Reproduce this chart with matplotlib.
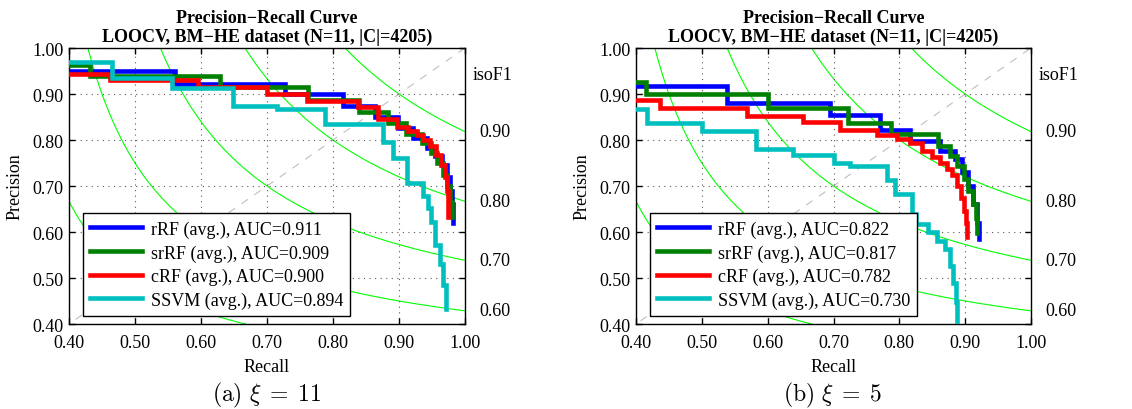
import numpy as np
import matplotlib
import matplotlib.pyplot as plt
import matplotlib.transforms as mtransforms

matplotlib.use("Agg")

plt.rcParams.update({
    "font.family": "serif",
    "font.serif": ["Liberation Serif", "DejaVu Serif"],
    "font.size": 13,
    "mathtext.fontset": "cm",
    "axes.linewidth": 1.0,
    "xtick.direction": "in",
    "ytick.direction": "in",
    "xtick.top": True,
    "ytick.right": True,
})

# ---- data ----
METHODS = ["rRF", "srRF", "cRF", "SSVM"]
COLORS = ["#0000ff", "#008000", "#ff0000", "#00bfbf"]

# (a) xi = 11
A_RRF_R = [0.400, 0.561, 0.727, 0.815, 0.863, 0.899, 0.921, 0.942, 0.955, 0.965, 0.972, 0.977, 0.980, 0.982]
A_RRF_P = [0.951, 0.922, 0.899, 0.873, 0.851, 0.827, 0.804, 0.782, 0.765, 0.745, 0.720, 0.690, 0.660, 0.620]
A_SRRF_R = [0.400, 0.432, 0.629, 0.762, 0.839, 0.883, 0.910, 0.935, 0.948, 0.958, 0.966, 0.972, 0.977, 0.980]
A_SRRF_P = [0.962, 0.940, 0.915, 0.888, 0.860, 0.838, 0.813, 0.793, 0.772, 0.750, 0.725, 0.700, 0.665, 0.632]
A_CRF_R = [0.400, 0.462, 0.595, 0.700, 0.761, 0.838, 0.868, 0.897, 0.914, 0.928, 0.937, 0.947, 0.956, 0.963, 0.969, 0.973, 0.975]
A_CRF_P = [0.943, 0.930, 0.915, 0.900, 0.885, 0.872, 0.845, 0.828, 0.820, 0.811, 0.800, 0.786, 0.768, 0.745, 0.720, 0.690, 0.632]
A_SSVM_R = [0.400, 0.465, 0.556, 0.648, 0.715, 0.788, 0.876, 0.891, 0.912, 0.936, 0.944, 0.948, 0.954, 0.962, 0.966, 0.971]
A_SSVM_P = [0.969, 0.935, 0.912, 0.875, 0.867, 0.835, 0.795, 0.760, 0.707, 0.678, 0.653, 0.622, 0.571, 0.531, 0.484, 0.432]
A_AUC = ["0.911", "0.909", "0.900", "0.894"]

# (b) xi = 5
B_RRF_R = [0.400, 0.538, 0.694, 0.771, 0.816, 0.862, 0.885, 0.895, 0.904, 0.912, 0.918, 0.921]
B_RRF_P = [0.917, 0.880, 0.854, 0.822, 0.798, 0.777, 0.759, 0.730, 0.700, 0.660, 0.620, 0.585]
B_SRRF_R = [0.400, 0.415, 0.601, 0.722, 0.788, 0.859, 0.877, 0.887, 0.898, 0.905, 0.912, 0.916, 0.918]
B_SRRF_P = [0.927, 0.900, 0.870, 0.838, 0.813, 0.786, 0.766, 0.744, 0.715, 0.690, 0.660, 0.630, 0.597]
B_CRF_R = [0.400, 0.436, 0.569, 0.653, 0.710, 0.766, 0.796, 0.816, 0.834, 0.849, 0.862, 0.872, 0.880, 0.887, 0.893, 0.898, 0.901, 0.903]
B_CRF_P = [0.887, 0.870, 0.852, 0.839, 0.822, 0.811, 0.802, 0.793, 0.777, 0.763, 0.750, 0.738, 0.725, 0.700, 0.675, 0.645, 0.620, 0.590]
B_SSVM_R = [0.400, 0.416, 0.501, 0.583, 0.639, 0.700, 0.725, 0.781, 0.794, 0.819, 0.826, 0.844, 0.857, 0.869, 0.877, 0.882, 0.886, 0.887]
B_SSVM_P = [0.867, 0.836, 0.820, 0.780, 0.767, 0.751, 0.744, 0.712, 0.683, 0.639, 0.617, 0.600, 0.580, 0.563, 0.527, 0.490, 0.447, 0.390]
B_AUC = ["0.822", "0.817", "0.782", "0.730"]

ISO_F1 = [0.3, 0.4, 0.5, 0.6, 0.7, 0.8, 0.9]
ISO_LABELED = [0.6, 0.7, 0.8, 0.9]

TITLE = "Precision\u2212Recall Curve\nLOOCV, BM\u2212HE dataset (N=11, |C|=4205)"


def draw_panel(ax, curves, aucs):
    ax.set_xlim(0.4, 1.0)
    ax.set_ylim(0.4, 1.0)
    ticks = np.arange(0.4, 1.001, 0.1)
    ax.set_xticks(ticks)
    ax.set_yticks(ticks)
    ax.set_xticklabels(["%.2f" % t for t in ticks])
    ax.set_yticklabels(["%.2f" % t for t in ticks])
    ax.tick_params(length=4, width=1)
    ax.tick_params(axis="x", pad=7)
    ax.tick_params(axis="y", pad=4)
    ax.grid(True, ls=(0, (1, 4)), color="0.35", lw=0.8)

    # iso-F1 reference curves
    r = np.linspace(0.2, 1.0, 600)
    for f in ISO_F1:
        with np.errstate(divide="ignore", invalid="ignore"):
            p = f * r / (2 * r - f)
        p[(2 * r - f) <= 0] = np.nan
        ax.plot(r, p, color="#00ff00", lw=0.8, zorder=1)
    ax.plot([0, 1], [0, 1], color="0.75", lw=0.8, dashes=(7, 7), zorder=1)

    trans = mtransforms.blended_transform_factory(ax.transAxes, ax.transData)
    ax.text(1.02, 0.943, "isoF1", transform=trans, va="center", ha="left")
    for f in ISO_LABELED:
        ax.text(1.037, f / (2 - f), "%.2f" % f, transform=trans, va="center", ha="left")

    for (R, P), name, col, auc in zip(curves, METHODS, COLORS, aucs):
        ax.step(R, P, where="post", color=col, lw=3.3, zorder=3,
                solid_joinstyle="miter",
                label="%s (avg.), AUC=%s" % (name, auc))

    leg = ax.legend(loc="lower left", bbox_to_anchor=(0.035, 0.029), borderaxespad=0,
                    handlelength=2.85, handletextpad=0.5, fancybox=False,
                    framealpha=1, edgecolor="black", borderpad=0.4, labelspacing=0.35)
    leg.get_frame().set_linewidth(1.0)
    leg.set_zorder(5)

    ax.set_title(TITLE, fontweight="bold", fontsize=13, pad=5, linespacing=1.1)
    ax.set_xlabel("Recall", labelpad=5)
    ax.set_ylabel("Precision", labelpad=6)


fig = plt.figure(figsize=(11.32, 4.10), dpi=100)
ax1 = fig.add_axes([69 / 1132, 1 - 325 / 410, 396 / 1132, 276 / 410])
ax2 = fig.add_axes([636 / 1132, 1 - 325 / 410, 395 / 1132, 276 / 410])

draw_panel(ax1, [(A_RRF_R, A_RRF_P), (A_SRRF_R, A_SRRF_P), (A_CRF_R, A_CRF_P), (A_SSVM_R, A_SSVM_P)], A_AUC)
draw_panel(ax2, [(B_RRF_R, B_RRF_P), (B_SRRF_R, B_SRRF_P), (B_CRF_R, B_CRF_P), (B_SSVM_R, B_SSVM_P)], B_AUC)

fig.text(267 / 1132, 1 - 395 / 410, r"$\mathrm{(a)}\ \xi\;=\;11$", ha="center", va="center", fontsize=17)
fig.text(833 / 1132, 1 - 395 / 410, r"$\mathrm{(b)}\ \xi\;=\;5$", ha="center", va="center", fontsize=17)

fig.savefig("out.png", dpi=100)
